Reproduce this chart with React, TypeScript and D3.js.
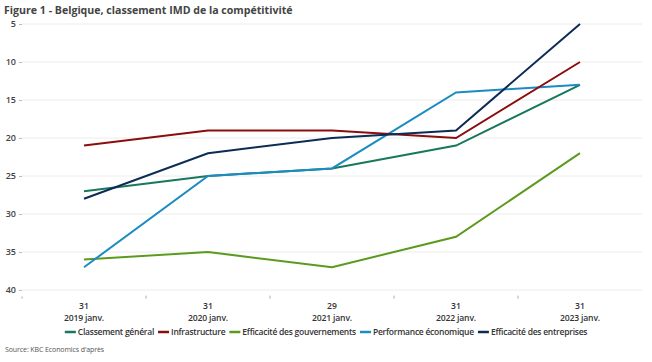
import React, { useEffect, useRef } from "react";
import * as d3 from "d3";

const dates = ["2019", "2020", "2021", "2022", "2023"];
const dayLabels = ["31", "31", "29", "31", "31"];
const monthLabels = ["2019 janv.", "2020 janv.", "2021 janv.", "2022 janv.", "2023 janv."];
const yTicks = [5, 10, 15, 20, 25, 30, 35, 40];

const seriesNames = [
  "Classement général",
  "Infrastructure",
  "Efficacité des gouvernements",
  "Performance économique",
  "Efficacité des entreprises",
];
const classementGeneral = [27, 25, 24, 21, 13];
const infrastructure = [21, 19, 19, 20, 10];
const efficaciteGouv = [36, 35, 37, 33, 22];
const performanceEco = [37, 25, 24, 14, 13];
const efficaciteEntreprises = [28, 22, 20, 19, 5];
const seriesColors = ["#17785c", "#8b0d0d", "#5b9a1c", "#1a8cc2", "#0c2b55"];

const FONT = "'Open Sans', 'Noto Sans', sans-serif";

export default function App() {
  const svgRef = useRef<SVGSVGElement | null>(null);

  useEffect(() => {
    if (!svgRef.current) return;
    const width = 652;
    const height = 362;
    const svg = d3.select(svgRef.current);
    svg.selectAll("*").remove();
    svg.attr("viewBox", `0 0 ${width} ${height}`);

    const allSeries = [classementGeneral, infrastructure, efficaciteGouv, performanceEco, efficaciteEntreprises];

    const x = d3.scaleBand<string>().domain(dates).range([22, 642]).padding(0);
    const y = d3.scaleLinear().domain([5, 41]).range([24, 297.6]);

    // title
    svg
      .append("text")
      .attr("x", 4)
      .attr("y", 14)
      .attr("font-family", FONT)
      .attr("font-size", 10.6)
      .attr("font-weight", 700)
      .attr("fill", "#444")
      .text("Figure 1 - Belgique, classement IMD de la compétitivité");

    // grid
    svg
      .append("g")
      .selectAll("line")
      .data(yTicks)
      .enter()
      .append("line")
      .attr("x1", 22)
      .attr("x2", 642)
      .attr("y1", (d) => y(d))
      .attr("y2", (d) => y(d))
      .attr("stroke", "#ececec")
      .attr("stroke-width", 1);

    // y axis
    const yAxis = svg
      .append("g")
      .attr("transform", "translate(22,0)")
      .call(d3.axisLeft(y).tickValues(yTicks).tickSize(3).tickPadding(3));
    yAxis.select(".domain").remove();
    yAxis.selectAll(".tick line").attr("stroke", "#bbb");
    yAxis
      .selectAll("text")
      .attr("font-family", FONT)
      .attr("font-size", 9)
      .attr("font-weight", 600)
      .attr("fill", "#444");

    // x axis: small ticks between categories
    const xAxisY = y(41);
    svg
      .append("g")
      .selectAll("line")
      .data(dates.slice(1))
      .enter()
      .append("line")
      .attr("x1", (d) => x(d)!)
      .attr("x2", (d) => x(d)!)
      .attr("y1", xAxisY - 2)
      .attr("y2", xAxisY + 1)
      .attr("stroke", "#aaa");
    svg
      .append("line")
      .attr("x1", 22)
      .attr("x2", 22)
      .attr("y1", xAxisY - 1)
      .attr("y2", xAxisY + 1)
      .attr("stroke", "#aaa");

    const labels = svg.append("g").selectAll("g").data(dates).enter().append("g");
    labels
      .append("text")
      .attr("x", (d) => x(d)! + x.bandwidth() / 2)
      .attr("y", 309)
      .attr("text-anchor", "middle")
      .attr("font-family", FONT)
      .attr("font-size", 8.6)
      .attr("font-weight", 600)
      .attr("fill", "#333")
      .text((_d, i) => dayLabels[i]);
    labels
      .append("text")
      .attr("x", (d) => x(d)! + x.bandwidth() / 2)
      .attr("y", 321)
      .attr("text-anchor", "middle")
      .attr("font-family", FONT)
      .attr("font-size", 8.6)
      .attr("font-weight", 600)
      .attr("letter-spacing", -0.15)
      .attr("fill", "#333")
      .text((_d, i) => monthLabels[i]);

    // lines
    const line = d3
      .line<number>()
      .x((_d, i) => x(dates[i])! + x.bandwidth() / 2)
      .y((d) => y(d));
    const drawOrder = [2, 0, 3, 1, 4];
    drawOrder.forEach((si) => {
      svg
        .append("path")
        .datum(allSeries[si])
        .attr("d", line)
        .attr("fill", "none")
        .attr("stroke", seriesColors[si])
        .attr("stroke-width", 2);
    });

    // legend
    const legend = svg.append("g");
    let cx = 0;
    seriesNames.forEach((name, i) => {
      const g = legend.append("g").attr("transform", `translate(${cx},0)`);
      g.append("line")
        .attr("x1", 0)
        .attr("x2", 11)
        .attr("y1", 0)
        .attr("y2", 0)
        .attr("stroke", seriesColors[i])
        .attr("stroke-width", 2.5);
      const t = g
        .append("text")
        .attr("x", 13)
        .attr("y", 3.2)
        .attr("font-family", FONT)
        .attr("font-size", 8.5)
        .attr("font-weight", 600)
        .attr("letter-spacing", -0.25)
        .attr("fill", "#333")
        .text(name);
      const w = (t.node() as SVGTextElement).getComputedTextLength();
      cx += 13 + w + 4;
    });
    const legendW = cx - 4;
    legend.attr("transform", `translate(${326 - legendW / 2},332)`);

    // source
    svg
      .append("text")
      .attr("x", 5)
      .attr("y", 352)
      .attr("font-family", FONT)
      .attr("font-size", 7)
      .attr("letter-spacing", -0.1)
      .attr("fill", "#555")
      .text("Source: KBC Economics d'après");
  }, []);

  return (
    <svg
      ref={svgRef}
      width={652}
      height={362}
      style={{ position: "absolute", left: 0, top: 0, background: "#fff" }}
    />
  );
}
